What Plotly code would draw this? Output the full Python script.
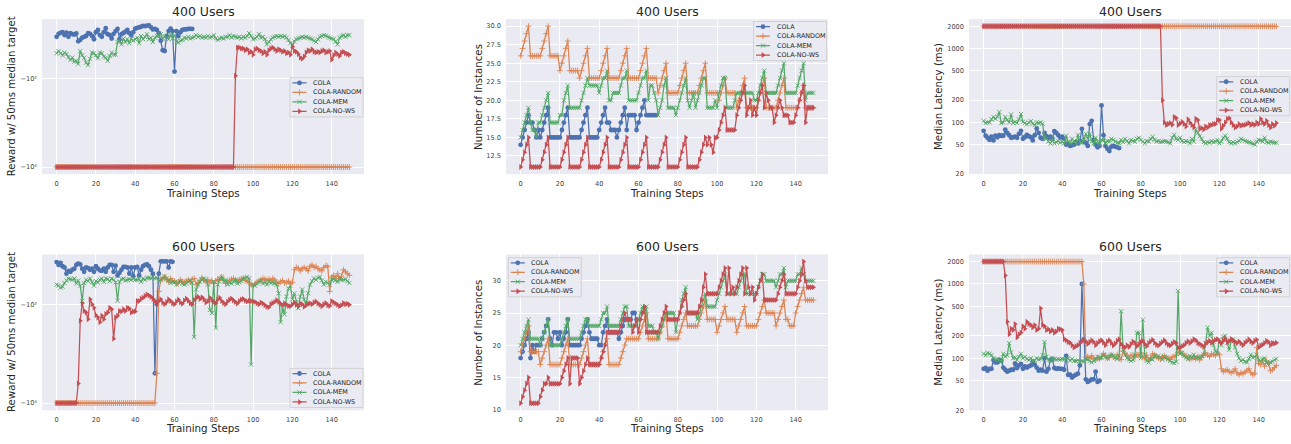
import plotly.graph_objects as go

W, H = 1291, 444
FONT = "DejaVu Sans"
INK = "#262626"

steps = list(range(150))

# ---------------- 400 users ----------------
# reward (negative values, shown on a symlog-like axis)
cola_rew_400 = [
    -11.5, -9.8, -9.3, -9.0, -10.5, -9.2, -11.5, -9.5, -10.0, -10.2,
    -9.6, -14.5, -13.5, -12.0, -11.5, -11.0, -9.5, -9.8, -11.0, -13.0,
    -9.0, -8.0, -10.5, -11.5, -9.0, -7.3, -10.0, -10.5, -12.5, -9.8,
    -8.5, -7.6, -13.0, -10.0, -9.4, -8.8, -8.0, -9.5, -10.5, -9.0,
    -7.5, -7.2, -7.0, -6.8, -6.5, -6.6, -6.4, -6.3, -7.0, -7.8,
    -7.6, -8.0, -9.5, -14.0, -23.0, -24.0, -11.0, -8.5, -7.5, -8.5,
    -70.0, -8.5, -11.0, -9.0, -8.0, -7.8, -7.8, -7.6, -7.6, -7.6,
]
random_rew_400 = [
    -1e4, -1e4, -1e4, -1e4, -1e4, -1e4, -1e4, -1e4, -1e4, -1e4,
    -1e4, -1e4, -1e4, -1e4, -1e4, -1e4, -1e4, -1e4, -1e4, -1e4,
    -1e4, -1e4, -1e4, -1e4, -1e4, -1e4, -1e4, -1e4, -1e4, -1e4,
    -1e4, -1e4, -1e4, -1e4, -1e4, -1e4, -1e4, -1e4, -1e4, -1e4,
    -1e4, -1e4, -1e4, -1e4, -1e4, -1e4, -1e4, -1e4, -1e4, -1e4,
    -1e4, -1e4, -1e4, -1e4, -1e4, -1e4, -1e4, -1e4, -1e4, -1e4,
    -1e4, -1e4, -1e4, -1e4, -1e4, -1e4, -1e4, -1e4, -1e4, -1e4,
    -1e4, -1e4, -1e4, -1e4, -1e4, -1e4, -1e4, -1e4, -1e4, -1e4,
    -1e4, -1e4, -1e4, -1e4, -1e4, -1e4, -1e4, -1e4, -1e4, -1e4,
    -1e4, -1e4, -1e4, -1e4, -1e4, -1e4, -1e4, -1e4, -1e4, -1e4,
    -1e4, -1e4, -1e4, -1e4, -1e4, -1e4, -1e4, -1e4, -1e4, -1e4,
    -1e4, -1e4, -1e4, -1e4, -1e4, -1e4, -1e4, -1e4, -1e4, -1e4,
    -1e4, -1e4, -1e4, -1e4, -1e4, -1e4, -1e4, -1e4, -1e4, -1e4,
    -1e4, -1e4, -1e4, -1e4, -1e4, -1e4, -1e4, -1e4, -1e4, -1e4,
    -1e4, -1e4, -1e4, -1e4, -1e4, -1e4, -1e4, -1e4, -1e4, -1e4,
]
mem_rew_400 = [
    -27, -24, -27, -30, -26, -28, -33, -38, -34, -42,
    -40, -47, -24, -30, -34, -44, -50, -36, -26, -27,
    -30, -35, -26, -27, -32, -34, -40, -31, -26, -29,
    -29, -15, -14, -17, -12.5, -15, -13, -16, -12.5, -14,
    -13, -12, -16, -11, -13, -11.5, -10, -13, -12, -15,
    -12, -11, -11, -10, -13, -11, -12, -13, -10, -12.5,
    -10.5, -14.5, -15.5, -14, -13.5, -12, -12.5, -11.5, -12.5, -12,
    -11.5, -10.5, -11.5, -11, -12, -11.5, -12, -11, -12, -11.5,
    -10.5, -12.5, -13.5, -12.5, -12, -12.5, -11.5, -11.5, -10.5, -12,
    -11, -11.5, -12, -11.5, -12.5, -11.5, -12, -11, -9.5, -11,
    -13, -12.5, -11.5, -10, -12, -11.5, -13, -17, -15, -13,
    -12, -11.5, -11, -11.5, -11, -11.5, -11, -12, -13.5, -16,
    -18, -14.5, -13, -12.5, -12, -11.5, -12, -11.5, -12, -12.5,
    -13, -14, -15, -13, -11.5, -11, -10.5, -10.8, -11.5, -12,
    -12.5, -13, -14.5, -17, -12, -11, -10.5, -11.5, -10.5, -10.5,
]
nows_rew_400 = [
    -1e4, -1e4, -1e4, -1e4, -1e4, -1e4, -1e4, -1e4, -1e4, -1e4,
    -1e4, -1e4, -1e4, -1e4, -1e4, -1e4, -1e4, -1e4, -1e4, -1e4,
    -1e4, -1e4, -1e4, -1e4, -1e4, -1e4, -1e4, -1e4, -1e4, -1e4,
    -1e4, -1e4, -1e4, -1e4, -1e4, -1e4, -1e4, -1e4, -1e4, -1e4,
    -1e4, -1e4, -1e4, -1e4, -1e4, -1e4, -1e4, -1e4, -1e4, -1e4,
    -1e4, -1e4, -1e4, -1e4, -1e4, -1e4, -1e4, -1e4, -1e4, -1e4,
    -1e4, -1e4, -1e4, -1e4, -1e4, -1e4, -1e4, -1e4, -1e4, -1e4,
    -1e4, -1e4, -1e4, -1e4, -1e4, -1e4, -1e4, -1e4, -1e4, -1e4,
    -1e4, -1e4, -1e4, -1e4, -1e4, -1e4, -1e4, -1e4, -1e4, -1e4,
    -1e4, -87, -20, -20, -21, -21, -23, -22, -26, -25,
    -29, -22, -21, -23, -24, -27, -25, -29, -23, -21,
    -20, -22, -24, -22, -23, -25, -24, -27, -26, -29,
    -19, -24, -25, -28, -34, -36, -32, -26, -23, -24,
    -22, -25, -26, -25, -26, -24, -23, -26, -25, -24,
    -38, -30, -26, -28, -31, -26, -25, -27, -28, -29,
]

# number of instances
cola_inst_400 = [
    14, 15, 16, 17, 18, 17, 17, 16, 15, 16,
    15, 16, 17, 18, 19, 15, 15, 15, 15, 15,
    15, 16, 17, 18, 19, 15, 15, 15, 15, 15,
    15, 16, 17, 18, 19, 15, 15, 15, 15, 15,
    16, 17, 18, 19, 17, 17, 16, 16, 16, 15,
    16, 17, 18, 19, 16, 18, 18, 18, 18, 16,
    17, 18, 19, 20, 18, 18, 18, 18, 18, 18,
]
random_inst_400 = [
    26, 27, 28, 29, 30, 26, 26, 26, 26, 26,
    26, 27, 28, 29, 30, 26, 26, 26, 26, 26,
    24, 25, 26, 27, 28, 24, 24, 24, 24, 24,
    23, 24, 25, 26, 27, 23, 23, 23, 23, 23,
    23, 24, 25, 26, 27, 23, 23, 23, 23, 23,
    23, 24, 25, 26, 27, 23, 23, 23, 23, 23,
    23, 24, 25, 26, 27, 23, 23, 23, 23, 23,
    21, 22, 23, 24, 25, 21, 21, 21, 21, 21,
    21, 22, 23, 24, 25, 21, 21, 21, 21, 21,
    21, 22, 23, 24, 25, 21, 21, 21, 21, 21,
    21, 20, 21, 22, 23, 21, 21, 21, 21, 21,
    19, 20, 21, 22, 23, 19, 19, 19, 19, 19,
    19, 20, 21, 22, 23, 19, 19, 19, 19, 19,
    19, 20, 21, 22, 23, 19, 19, 19, 19, 19,
    19, 19, 20, 21, 22, 19, 19, 19, 19, 19,
]
mem_inst_400 = [
    15, 16, 17, 18, 19, 17, 16, 16, 15, 17,
    17, 18, 19, 20, 21, 17, 17, 17, 17, 17,
    18, 18, 20, 21, 22, 19, 19, 19, 19, 19,
    19, 20, 21, 22, 23, 22, 22, 22, 22, 22,
    21, 22, 23, 23, 24, 20, 20, 21, 21, 21,
    21, 22, 23, 23, 24, 20, 20, 20, 20, 20,
    21, 22, 23, 23, 24, 20, 22, 22, 21, 20,
    18, 19, 20, 22, 23, 19, 19, 19, 19, 18,
    19, 20, 21, 22, 23, 20, 19, 20, 21, 19,
    20, 21, 22, 23, 23, 19, 19, 19, 19, 20,
    19, 21, 22, 23, 23, 19, 19, 19, 19, 20,
    21, 21, 21, 21, 21, 21, 21, 21, 21, 20,
    20, 21, 22, 23, 24, 21, 21, 21, 21, 21,
    21, 22, 23, 24, 25, 21, 21, 21, 21, 21,
    21, 22, 23, 24, 25, 20, 21, 21, 21, 21,
]
nows_inst_400 = [
    11, 12, 13, 14, 15, 11, 11, 11, 11, 11,
    11, 12, 13, 14, 15, 11, 11, 11, 11, 11,
    11, 12, 13, 14, 15, 11, 11, 11, 11, 11,
    11, 12, 13, 14, 15, 11, 11, 11, 11, 11,
    11, 12, 13, 14, 15, 11, 11, 11, 11, 11,
    11, 12, 13, 14, 15, 11, 11, 11, 11, 11,
    11, 12, 13, 14, 15, 11, 11, 11, 11, 11,
    11, 12, 13, 14, 15, 11, 11, 11, 11, 11,
    11, 12, 13, 14, 15, 11, 11, 11, 11, 11,
    11, 12, 13, 14, 15, 14, 15, 14, 13, 15,
    15, 16, 17, 18, 19, 16, 16, 16, 16, 16,
    18, 19, 20, 21, 22, 18, 19, 20, 18, 19,
    18, 20, 21, 22, 19, 21, 20, 19, 19, 17,
    18, 19, 20, 19, 18, 18, 18, 17, 17, 17,
    18, 19, 20, 21, 22, 17, 19, 19, 19, 19,
]

# median latency (ms)
cola_lat_400 = [
    77, 66, 62, 58, 64, 57, 66, 63, 67, 66,
    66, 80, 72, 67, 62, 63, 64, 62, 70, 77,
    60, 63, 68, 65, 63, 57, 67, 83, 72, 62,
    60, 72, 65, 62, 64, 60, 76, 72, 67, 62,
    64, 60, 50, 52, 48, 49, 50, 54, 52, 56,
    82, 55, 53, 48, 95, 105, 58, 50, 46, 48,
    170, 67, 48, 44, 41, 47, 48, 47, 46, 45,
]
random_lat_400 = [
    2000, 2000, 2000, 2000, 2000, 2000, 2000, 2000, 2000, 2000,
    2000, 2000, 2000, 2000, 2000, 2000, 2000, 2000, 2000, 2000,
    2000, 2000, 2000, 2000, 2000, 2000, 2000, 2000, 2000, 2000,
    2000, 2000, 2000, 2000, 2000, 2000, 2000, 2000, 2000, 2000,
    2000, 2000, 2000, 2000, 2000, 2000, 2000, 2000, 2000, 2000,
    2000, 2000, 2000, 2000, 2000, 2000, 2000, 2000, 2000, 2000,
    2000, 2000, 2000, 2000, 2000, 2000, 2000, 2000, 2000, 2000,
    2000, 2000, 2000, 2000, 2000, 2000, 2000, 2000, 2000, 2000,
    2000, 2000, 2000, 2000, 2000, 2000, 2000, 2000, 2000, 2000,
    2000, 2000, 2000, 2000, 2000, 2000, 2000, 2000, 2000, 2000,
    2000, 2000, 2000, 2000, 2000, 2000, 2000, 2000, 2000, 2000,
    2000, 2000, 2000, 2000, 2000, 2000, 2000, 2000, 2000, 2000,
    2000, 2000, 2000, 2000, 2000, 2000, 2000, 2000, 2000, 2000,
    2000, 2000, 2000, 2000, 2000, 2000, 2000, 2000, 2000, 2000,
    2000, 2000, 2000, 2000, 2000, 2000, 2000, 2000, 2000, 2000,
]
mem_lat_400 = [
    105, 98, 100, 100, 110, 118, 112, 120, 138, 98,
    100, 118, 108, 100, 128, 98, 102, 98, 110, 130,
    102, 98, 94, 100, 104, 96, 92, 100, 98, 100,
    96, 62, 60, 55, 52, 60, 52, 54, 56, 53,
    55, 52, 66, 55, 52, 60, 56, 52, 68, 54,
    52, 58, 70, 60, 70, 55, 52, 62, 55, 50,
    58, 58, 52, 56, 55, 60, 58, 55, 53, 52,
    58, 54, 60, 56, 52, 58, 56, 55, 60, 62,
    58, 55, 52, 56, 55, 60, 64, 58, 55, 56,
    54, 55, 56, 55, 54, 52, 62, 68, 60, 58,
    62, 56, 54, 56, 55, 52, 60, 55, 80, 72,
    65, 60, 54, 52, 54, 53, 56, 54, 55, 58,
    52, 55, 62, 66, 60, 54, 52, 54, 52, 54,
    56, 60, 58, 56, 55, 54, 53, 52, 50, 55,
    58, 57, 55, 62, 54, 53, 55, 54, 53, 53,
]
nows_lat_400 = [
    2000, 2000, 2000, 2000, 2000, 2000, 2000, 2000, 2000, 2000,
    2000, 2000, 2000, 2000, 2000, 2000, 2000, 2000, 2000, 2000,
    2000, 2000, 2000, 2000, 2000, 2000, 2000, 2000, 2000, 2000,
    2000, 2000, 2000, 2000, 2000, 2000, 2000, 2000, 2000, 2000,
    2000, 2000, 2000, 2000, 2000, 2000, 2000, 2000, 2000, 2000,
    2000, 2000, 2000, 2000, 2000, 2000, 2000, 2000, 2000, 2000,
    2000, 2000, 2000, 2000, 2000, 2000, 2000, 2000, 2000, 2000,
    2000, 2000, 2000, 2000, 2000, 2000, 2000, 2000, 2000, 2000,
    2000, 2000, 2000, 2000, 2000, 2000, 2000, 2000, 2000, 2000,
    2000, 200, 100, 92, 95, 98, 93, 118, 115, 92,
    97, 102, 95, 88, 110, 100, 92, 85, 112, 108,
    82, 84, 80, 88, 85, 92, 92, 95, 95, 108,
    108, 82, 90, 100, 112, 115, 100, 92, 85, 88,
    95, 90, 92, 92, 95, 98, 92, 95, 92, 100,
    95, 112, 100, 95, 105, 92, 85, 95, 90, 98,
]

# ---------------- 600 users ----------------
cola_rew_600 = [
    -14, -16, -14.5, -17, -18, -24, -21, -22, -20, -19,
    -16, -15, -15.5, -19, -22, -18, -18.5, -20, -19, -22,
    -17, -19, -20.5, -21, -19, -22, -18, -16, -16, -22,
    -16.5, -26, -23, -20, -17.5, -17.5, -18, -24, -18, -27,
    -18, -17.5, -26, -20, -17, -16, -15.5, -17, -20, -24,
    -2500, -100, -24, -13.5, -13.5, -13.5, -13.5, -18, -13.5, -13.8,
]
random_rew_600 = [
    -1e4, -1e4, -1e4, -1e4, -1e4, -1e4, -1e4, -1e4, -1e4, -1e4,
    -1e4, -1e4, -1e4, -1e4, -1e4, -1e4, -1e4, -1e4, -1e4, -1e4,
    -1e4, -1e4, -1e4, -1e4, -1e4, -1e4, -1e4, -1e4, -1e4, -1e4,
    -1e4, -1e4, -1e4, -1e4, -1e4, -1e4, -1e4, -1e4, -1e4, -1e4,
    -1e4, -1e4, -1e4, -1e4, -1e4, -1e4, -1e4, -1e4, -1e4, -1e4,
    -1e4, -2500, -55, -32, -30, -28, -32, -35, -30, -33,
    -34, -38, -36, -32, -35, -36, -34, -32, -35, -31,
    -30, -40, -36, -33, -29, -33, -35, -32, -36, -33,
    -38, -34, -31, -33, -28, -32, -38, -35, -33, -31,
    -30, -32, -34, -32, -31, -30, -33, -34, -36, -40,
    -42, -38, -36, -34, -32, -30, -31, -33, -31, -33,
    -30, -32, -36, -38, -35, -33, -37, -36, -34, -38,
    -36, -20, -18, -18.5, -21, -19, -18, -19, -21, -17,
    -16, -18, -17, -19, -20, -21, -18, -16.5, -17, -55,
    -28, -26, -30, -24, -30, -27, -20, -22, -24, -26,
]
mem_rew_600 = [
    -40, -42, -46, -44, -37, -33, -30, -31, -32, -30,
    -38, -33, -42, -85, -37, -32, -34, -30, -36, -42,
    -34, -36, -32, -30, -35, -30, -31, -34, -30, -32,
    -36, -85, -35, -31, -30, -33, -32, -31, -32, -30,
    -32, -32, -31, -35, -30, -32, -29, -29, -30, -28,
    -30, -29, -34, -32, -30, -27, -30, -33, -37, -35,
    -36, -40, -36, -34, -38, -40, -38, -35, -33, -37,
    -460, -50, -40, -35, -32, -30, -32, -40, -130, -150,
    -35, -300, -40, -30, -28, -34, -32, -40, -36, -38,
    -35, -32, -38, -36, -34, -30, -29, -28, -30, -1650,
    -40, -42, -38, -35, -33, -38, -36, -40, -34, -37,
    -36, -38, -40, -60, -230, -120, -160, -70, -48, -42,
    -80, -60, -90, -120, -70, -50, -80, -100, -60, -40,
    -34, -30, -32, -29, -28, -33, -40, -35, -37, -40,
    -32, -31, -33, -35, -30, -32, -32, -31, -34, -37,
]
nows_rew_600 = [
    -1e4, -1e4, -1e4, -1e4, -1e4, -1e4, -1e4, -1e4, -1e4, -1e4,
    -1e4, -4000, -215, -95, -136, -147, -200, -79, -100, -117,
    -166, -185, -232, -171, -200, -158, -147, -117, -126, -500,
    -185, -171, -136, -140, -126, -136, -117, -121, -147, -140,
    -140, -86, -86, -77, -74, -68, -63, -66, -70, -77,
    -86, -93, -86, -79, -93, -100, -90, -79, -86, -95,
    -100, -88, -80, -92, -98, -84, -76, -85, -95, -100,
    -82, -75, -70, -78, -72, -80, -92, -86, -74, -82,
    -90, -95, -80, -74, -86, -94, -100, -88, -80, -76,
    -84, -90, -96, -86, -80, -78, -84, -88, -85, -86,
    -88, -90, -95, -100, -92, -96, -105, -112, -115, -100,
    -94, -90, -82, -90, -98, -104, -95, -102, -108, -110,
    -100, -92, -102, -110, -96, -100, -112, -105, -98, -95,
    -100, -92, -88, -96, -102, -110, -100, -94, -105, -108,
    -86, -92, -96, -102, -110, -104, -94, -100, -98, -102,
]

cola_inst_600 = [
    18, 19, 20, 21, 22, 18, 20, 19, 20, 20,
    20, 21, 22, 23, 24, 21, 20, 22, 22, 21,
    22, 20, 21, 22, 24, 20, 20, 20, 20, 20,
    20, 21, 22, 23, 24, 22, 21, 21, 21, 21,
    20, 20, 22, 23, 24, 22, 22, 22, 22, 22,
    21, 22, 23, 24, 24, 24, 24, 25, 25, 24,
]
random_inst_600 = [
    19, 20, 21, 22, 23, 19, 19, 19, 19, 19,
    17, 18, 19, 20, 21, 17, 17, 17, 17, 17,
    17, 18, 19, 20, 21, 17, 17, 17, 17, 17,
    17, 18, 19, 20, 21, 17, 17, 17, 17, 17,
    17, 18, 19, 20, 21, 17, 17, 17, 17, 17,
    17, 18, 19, 20, 21, 21, 21, 21, 21, 21,
    21, 22, 23, 24, 25, 21, 21, 21, 21, 21,
    21, 22, 23, 24, 25, 21, 21, 21, 21, 21,
    21, 22, 23, 24, 25, 23, 23, 23, 23, 23,
    23, 24, 25, 26, 27, 24, 24, 24, 24, 24,
    22, 23, 24, 25, 26, 24, 24, 24, 24, 24,
    22, 23, 24, 25, 26, 23, 23, 23, 23, 23,
    23, 24, 25, 26, 27, 25, 25, 25, 25, 25,
    23, 24, 25, 26, 27, 24, 24, 23, 23, 23,
    25, 26, 27, 28, 29, 27, 27, 27, 27, 27,
]
mem_inst_600 = [
    20, 21, 22, 23, 24, 21, 21, 21, 21, 21,
    20, 21, 22, 23, 24, 20, 20, 20, 20, 20,
    20, 21, 22, 23, 24, 21, 21, 21, 21, 21,
    21, 22, 23, 24, 24, 23, 23, 23, 23, 23,
    23, 24, 25, 25, 26, 23, 23, 23, 23, 23,
    23, 24, 25, 26, 26, 23, 23, 23, 23, 23,
    24, 25, 26, 25, 26, 23, 23, 23, 22, 22,
    21, 22, 23, 24, 25, 25, 25, 25, 25, 22,
    24, 25, 27, 28, 29, 25, 25, 25, 25, 25,
    24, 25, 26, 27, 28, 26, 26, 26, 26, 26,
    27, 28, 29, 30, 31, 28, 28, 28, 28, 28,
    28, 29, 30, 31, 31, 28, 28, 28, 28, 28,
    28, 29, 30, 31, 31, 30, 30, 30, 30, 30,
    29, 30, 31, 31, 32, 29, 30, 30, 30, 30,
    30, 31, 31, 32, 31, 30, 30, 30, 30, 30,
]
nows_inst_600 = [
    11, 12, 13, 14, 15, 11, 11, 11, 11, 11,
    12, 13, 14, 14, 15, 14, 14, 14, 14, 14,
    14, 15, 16, 17, 18, 14, 18, 18, 18, 18,
    14, 15, 16, 17, 18, 17, 17, 17, 17, 17,
    17, 18, 19, 20, 22, 22, 22, 22, 22, 22,
    22, 23, 24, 25, 24, 24, 24, 22, 23, 24,
    22, 24, 25, 26, 22, 22, 22, 22, 22, 22,
    22, 23, 24, 25, 26, 24, 24, 24, 24, 24,
    24, 25, 26, 27, 28, 25, 25, 25, 25, 25,
    25, 26, 27, 29, 31, 28, 28, 28, 28, 28,
    28, 29, 30, 31, 32, 28, 32, 28, 29, 28,
    29, 30, 31, 32, 28, 32, 29, 28, 29, 27,
    28, 29, 30, 31, 27, 27, 27, 27, 27, 27,
    27, 28, 29, 30, 31, 28, 28, 28, 28, 28,
    28, 29, 30, 31, 33, 30, 29, 29, 29, 29,
]

cola_lat_600 = [
    72, 74, 68, 72, 72, 95, 88, 88, 95, 92,
    75, 70, 66, 68, 70, 70, 85, 74, 80, 84,
    72, 78, 75, 78, 80, 90, 82, 75, 68, 70,
    68, 100, 66, 72, 95, 98, 74, 72, 73, 72,
    72, 70, 108, 60, 60, 55, 58, 60, 62, 80,
    1000, 180, 52, 48, 50, 52, 52, 66, 48, 50,
]
random_lat_600 = [
    2000, 2000, 2000, 2000, 2000, 2000, 2000, 2000, 2000, 2000,
    2000, 2000, 2000, 2000, 2000, 2000, 2000, 2000, 2000, 2000,
    2000, 2000, 2000, 2000, 2000, 2000, 2000, 2000, 2000, 2000,
    2000, 2000, 2000, 2000, 2000, 2000, 2000, 2000, 2000, 2000,
    2000, 2000, 2000, 2000, 2000, 2000, 2000, 2000, 2000, 2000,
    2000, 1000, 102, 105, 100, 108, 100, 95, 102, 98,
    105, 115, 108, 100, 102, 110, 105, 100, 112, 98,
    96, 125, 115, 110, 100, 110, 108, 102, 112, 108,
    118, 105, 100, 110, 95, 102, 115, 110, 105, 100,
    98, 105, 108, 100, 98, 97, 104, 105, 110, 120,
    125, 115, 110, 108, 100, 97, 100, 104, 98, 105,
    95, 102, 112, 118, 110, 105, 115, 112, 108, 118,
    112, 72, 66, 68, 70, 66, 64, 66, 72, 63,
    60, 64, 62, 65, 68, 72, 64, 60, 62, 140,
    85, 82, 92, 78, 92, 85, 68, 70, 75, 80,
]
mem_lat_600 = [
    115, 110, 118, 115, 110, 100, 95, 98, 95, 90,
    115, 105, 110, 160, 120, 100, 102, 95, 105, 115,
    100, 105, 98, 95, 100, 92, 94, 100, 96, 98,
    110, 165, 105, 95, 92, 100, 98, 96, 97, 96,
    98, 97, 96, 100, 93, 98, 92, 92, 94, 90,
    92, 90, 98, 96, 92, 88, 92, 97, 105, 100,
    102, 112, 104, 100, 108, 112, 108, 102, 98, 106,
    430, 130, 112, 100, 96, 92, 95, 112, 220, 220,
    100, 330, 112, 92, 88, 98, 96, 110, 104, 108,
    102, 96, 106, 102, 98, 92, 88, 86, 90, 800,
    115, 118, 108, 102, 98, 108, 102, 112, 100, 104,
    102, 106, 112, 160, 260, 200, 220, 150, 125, 118,
    180, 150, 195, 200, 160, 130, 170, 180, 140, 115,
    100, 92, 96, 90, 88, 98, 112, 102, 105, 112,
    95, 92, 98, 100, 88, 85, 88, 90, 95, 98,
]
nows_lat_600 = [
    2000, 2000, 2000, 2000, 2000, 2000, 2000, 2000, 2000, 2000,
    2000, 1300, 310, 210, 250, 240, 290, 190, 210, 220,
    270, 250, 310, 290, 280, 260, 280, 240, 250, 470,
    280, 270, 240, 245, 230, 240, 220, 230, 250, 245,
    240, 180, 175, 165, 162, 150, 140, 145, 150, 160,
    170, 175, 168, 155, 165, 175, 165, 150, 160, 170,
    175, 162, 150, 168, 175, 160, 148, 158, 172, 180,
    155, 145, 140, 150, 142, 155, 168, 160, 145, 155,
    165, 172, 155, 145, 160, 170, 178, 162, 152, 148,
    158, 165, 175, 160, 152, 148, 158, 165, 160, 140,
    140, 145, 150, 160, 170, 160, 170, 180, 175, 160,
    155, 150, 142, 155, 165, 172, 160, 170, 178, 180,
    168, 160, 172, 182, 165, 170, 182, 175, 165, 160,
    168, 158, 150, 162, 170, 180, 168, 160, 172, 178,
    140, 148, 152, 160, 172, 165, 150, 160, 158, 162,
]

names = ["COLA", "COLA-RANDOM", "COLA-MEM", "COLA-NO-WS"]
colors = ["#4C72B0", "#DD8452", "#55A868", "#C44E52"]
symbols = ["circle", "cross-thin", "x-thin", "triangle-right"]
msizes = [4.8, 4.2, 4.2, 5.2]

# pixel boxes of the six panels
col_px = [(42, 364), (506, 828), (969, 1291)]
row_px = [(19.3, 175.7), (256.7, 414.0)]

panels = [
    dict(kind="reward", users=400, series=[cola_rew_400, random_rew_400, mem_rew_400, nows_rew_400],
         yrange=[4.16, 0.66], legend=(290, 78.5)),
    dict(kind="inst", users=400, series=[cola_inst_400, random_inst_400, mem_inst_400, nows_inst_400],
         yrange=[10.05, 30.95], legend=(753.5, 21.7)),
    dict(kind="lat", users=400, series=[cola_lat_400, random_lat_400, mem_lat_400, nows_lat_400],
         yrange=[1.3, 3.398], legend=(1216.7, 77.3)),
    dict(kind="reward", users=600, series=[cola_rew_600, random_rew_600, mem_rew_600, nows_rew_600],
         yrange=[4.145, 0.99], legend=(290, 371.7)),
    dict(kind="inst", users=600, series=[cola_inst_600, random_inst_600, mem_inst_600, nows_inst_600],
         yrange=[9.9, 34.1], legend=(508.3, 260)),
    dict(kind="lat", users=600, series=[cola_lat_600, random_lat_600, mem_lat_600, nows_lat_600],
         yrange=[1.3, 3.398], legend=(1216.7, 260)),
]

ytitles = {"reward": "Reward w/ 50ms median target",
           "inst": "Number of Instances",
           "lat": "Median Latency (ms)"}
ytitle_x = [11.7, 478.3, 938.3]


def marker_for(i):
    m = dict(symbol=symbols[i], size=msizes[i], color=colors[i])
    if "thin" in symbols[i]:
        m["line"] = dict(width=0.9, color=colors[i])
    else:
        m["line"] = dict(width=0)
    return m


def px_x(x):
    return x / W


def px_y(y):
    return 1 - y / H


fig = go.Figure()
layout = {}
annotations = []

for k, p in enumerate(panels):
    n = k + 1
    r, c = divmod(k, 3)
    x0, x1 = col_px[c]
    y0, y1 = row_px[r]
    xr = "x" if n == 1 else f"x{n}"
    yr = "y" if n == 1 else f"y{n}"

    for i, vals in enumerate(p["series"]):
        yv = [-v for v in vals] if p["kind"] == "reward" else vals
        fig.add_trace(go.Scatter(
            x=steps[:len(vals)], y=yv, mode="lines+markers", name=names[i],
            line=dict(color=colors[i], width=1.25), marker=marker_for(i),
            xaxis=xr, yaxis=yr, showlegend=False))

    xa = dict(domain=[px_x(x0), px_x(x1)], range=[-7.45, 156.45], tickvals=list(range(0, 141, 20)),
              showgrid=True, gridcolor="white", gridwidth=1, zeroline=False, showline=False,
              ticks="", ticklabelstandoff=4, tickfont=dict(size=6.6, color="#444444", family=FONT),
              anchor=yr)
    ya = dict(domain=[px_y(y1), px_y(y0)], range=p["yrange"], showgrid=True, gridcolor="white",
              gridwidth=1, zeroline=False, showline=False, ticks="", ticklabelstandoff=4,
              tickfont=dict(size=6.6, color="#444444", family=FONT), anchor=xr)
    if p["kind"] == "reward":
        ya.update(type="log", tickvals=[100, 10000], ticktext=["\u221210\u00b2", "\u221210\u2074"])
    elif p["kind"] == "lat":
        ya.update(type="log", tickvals=[20, 50, 100, 200, 500, 1000, 2000],
                  ticktext=["20", "50", "100", "200", "500", "1000", "2000"])
    else:
        if p["users"] == 400:
            ya.update(tick0=0, dtick=2.5, tickformat=".1f")
        else:
            ya.update(tick0=0, dtick=5)
    layout["xaxis" if n == 1 else f"xaxis{n}"] = xa
    layout["yaxis" if n == 1 else f"yaxis{n}"] = ya

    # overlay axes in pixel units for the legend box
    m = n + 6
    layout[f"xaxis{m}"] = dict(overlaying=xr, range=[x0, x1], visible=False, anchor=f"y{m}")
    layout[f"yaxis{m}"] = dict(overlaying=yr, range=[y1, y0], visible=False, anchor=f"x{m}")
    bx, by = p["legend"]
    bw, bh = 73, 39.5
    fig.add_trace(go.Scatter(
        x=[bx, bx + bw, bx + bw, bx, bx], y=[by, by, by + bh, by + bh, by],
        mode="lines", fill="toself", fillcolor="rgba(234,234,242,0.85)",
        line=dict(color="#cccccc", width=0.8), xaxis=f"x{m}", yaxis=f"y{m}",
        showlegend=False, hoverinfo="skip"))
    for i in range(4):
        ry = by + 5.2 + 9.55 * i
        fig.add_trace(go.Scatter(
            x=[bx + 2.5, bx + 16.5], y=[ry, ry], mode="lines",
            line=dict(color=colors[i], width=1.25), xaxis=f"x{m}", yaxis=f"y{m}",
            showlegend=False, hoverinfo="skip"))
        fig.add_trace(go.Scatter(
            x=[bx + 9.5], y=[ry], mode="markers", marker=marker_for(i),
            xaxis=f"x{m}", yaxis=f"y{m}", showlegend=False, hoverinfo="skip"))
        annotations.append(dict(
            x=px_x(bx + 21), y=px_y(ry), xref="paper", yref="paper", text=names[i],
            showarrow=False, xanchor="left", yanchor="middle",
            font=dict(size=6.4, color=INK, family=FONT)))

    cx = (x0 + x1) / 2
    title_y = 12 if r == 0 else 249
    annotations.append(dict(
        x=px_x(cx), y=px_y(title_y), xref="paper", yref="paper", text=f"{p['users']} Users",
        showarrow=False, xanchor="center", yanchor="middle",
        font=dict(size=12.5, color=INK, family=FONT)))
    xt_y = 194.5 if r == 0 else 432.3
    annotations.append(dict(
        x=px_x(cx), y=px_y(xt_y), xref="paper", yref="paper", text="Training Steps",
        showarrow=False, xanchor="center", yanchor="middle",
        font=dict(size=10.3, color=INK, family=FONT)))
    annotations.append(dict(
        x=px_x(ytitle_x[c]), y=px_y((y0 + y1) / 2), xref="paper", yref="paper",
        text=ytitles[p["kind"]], textangle=-90, showarrow=False,
        xanchor="center", yanchor="middle", font=dict(size=10.2, color=INK, family=FONT)))

fig.update_layout(
    width=W, height=H, margin=dict(l=0, r=0, t=0, b=0),
    paper_bgcolor="white", plot_bgcolor="#EAEAF2",
    font=dict(family=FONT, color=INK), showlegend=False, hovermode=False,
    annotations=annotations, **layout)

# the page body has a default 8px margin; drop it so the figure fills the window
fig.write_html("out.html", config={"displayModeBar": False},
               post_script="document.body.style.margin = '0';")
